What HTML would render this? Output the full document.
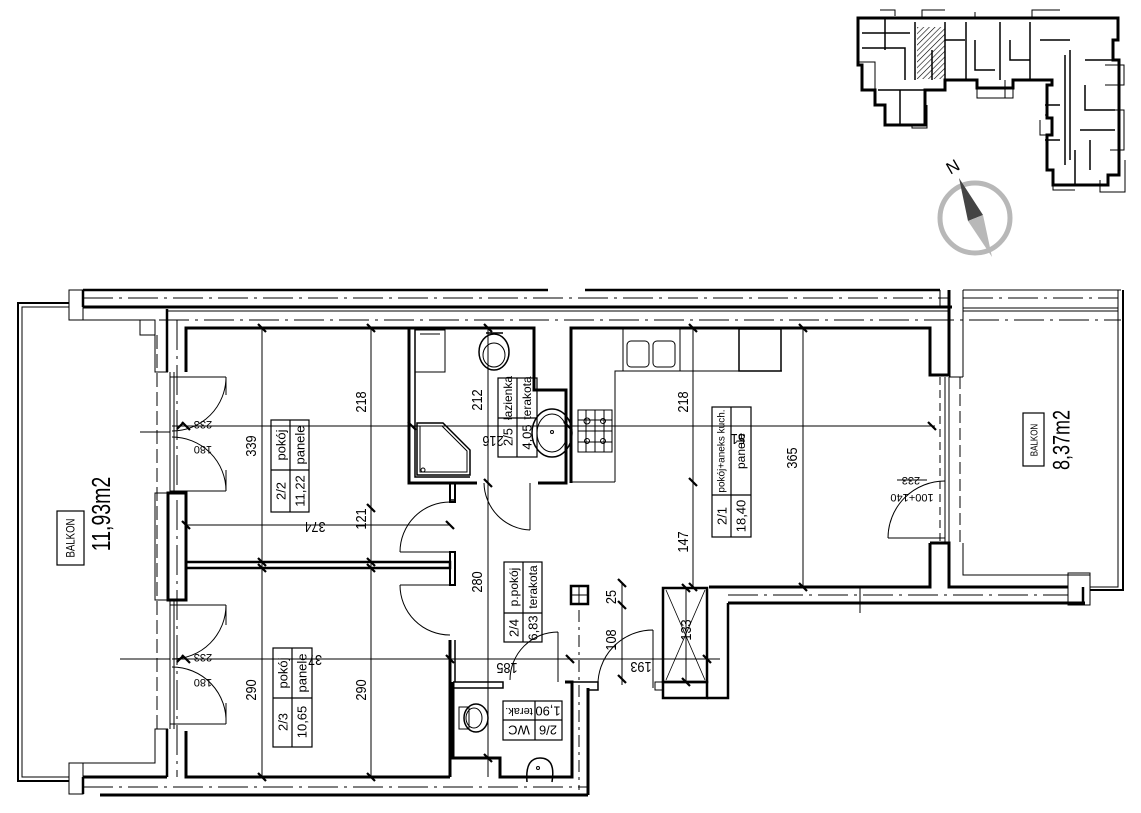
<!DOCTYPE html>
<html><head><meta charset="utf-8"><style>
html,body{margin:0;padding:0;background:#fff}
svg{display:block}
text{font-family:"Liberation Sans",sans-serif;fill:#000}
</style></head><body>
<svg width="1141" height="813" viewBox="0 0 1141 813" xmlns="http://www.w3.org/2000/svg">
<defs>
<pattern id="h" width="4" height="4" patternUnits="userSpaceOnUse" patternTransform="rotate(45)"><line x1="0" y1="0" x2="0" y2="4" stroke="#000" stroke-width="1.2"/></pattern>
</defs>
<g fill="none" stroke="#000">
<!-- TOP WALL -->
<line x1="83" y1="290" x2="548" y2="290" stroke-width="2.5"/>
<line x1="585" y1="290" x2="940" y2="290" stroke-width="2.5"/>
<line x1="83" y1="298" x2="950" y2="298" stroke-width="1" stroke-dasharray="30,6,3,6"/>
<line x1="83" y1="307" x2="952" y2="307" stroke-width="3"/>
<line x1="167" y1="311" x2="949" y2="311" stroke-width="1"/>
<line x1="69" y1="320" x2="1121" y2="320" stroke-width="1" stroke-dasharray="30,6,3,6"/>
<rect x="69" y="290" width="14" height="30" stroke-width="1"/>
<line x1="83" y1="290" x2="83" y2="307" stroke-width="2.5"/>
<!-- left balcony -->
<path d="M69 303 H18 V781 H69" stroke-width="2"/>
<path d="M69 307 H22 V777 H69" stroke-width="1"/>
<path d="M69 320 H155 V372 H168" stroke-width="1"/>
<rect x="140" y="320" width="15" height="15" stroke-width="1"/>
<path d="M69 763 H155 V729 H168" stroke-width="1"/>
<rect x="69" y="763" width="14" height="31" stroke-width="1"/>
<line x1="157" y1="335" x2="157" y2="729" stroke-width="1" stroke-dasharray="14,5"/>
<!-- left wall -->
<line x1="167" y1="309" x2="167" y2="372" stroke-width="2.5"/>
<path d="M186 372 V328 H409" stroke-width="3"/>
<line x1="177" y1="320" x2="177" y2="777" stroke-width="1" stroke-dasharray="30,6,3,6"/>
<line x1="170" y1="372" x2="170" y2="493" stroke-width="1"/>
<line x1="174" y1="372" x2="174" y2="493" stroke-width="1"/>
<rect x="168" y="493" width="18" height="107" stroke-width="3"/>
<rect x="155" y="493" width="13" height="107" stroke-width="1"/>
<line x1="170" y1="600" x2="170" y2="729" stroke-width="1"/>
<line x1="174" y1="600" x2="174" y2="729" stroke-width="1"/>
<path d="M167 729 V777" stroke-width="2.5"/>
<path d="M186 731 V777 H450" stroke-width="3"/>
<line x1="83" y1="777" x2="167" y2="777" stroke-width="3"/>
<line x1="83" y1="787" x2="588" y2="787" stroke-width="1" stroke-dasharray="30,6,3,6"/>
<line x1="100" y1="795" x2="588" y2="795" stroke-width="3"/>
<line x1="83" y1="777" x2="83" y2="794" stroke-width="2.5"/>
<!-- balcony doors left -->
<path d="M170 377 H226 M226 377 A54 54 0 0 1 172 431" stroke-width="1"/>
<path d="M170 491 H226 M226 491 A54 54 0 0 0 172 437" stroke-width="1"/>
<path d="M170 605 H226 M226 605 A54 54 0 0 1 172 659" stroke-width="1"/>
<path d="M170 724 H226 M226 724 A54 54 0 0 0 172 667" stroke-width="1"/>
<line x1="226" y1="377" x2="226" y2="395" stroke-width="1"/>
<line x1="226" y1="470" x2="226" y2="491" stroke-width="1"/>
<line x1="226" y1="605" x2="226" y2="625" stroke-width="1"/>
<line x1="226" y1="703" x2="226" y2="724" stroke-width="1"/>
<!-- partition between rooms -->
<rect x="186" y="562" width="264" height="6" stroke-width="2.5"/>
<!-- bathroom -->
<path d="M409 328 V483 H477" stroke-width="3"/>
<path d="M415 328 V477 H470" stroke-width="1.5"/>
<path d="M450 483 V500 H455 V487" stroke-width="1.5"/>
<path d="M409 328 H534 V390 H566 V483 H538" stroke-width="3"/>
<rect x="415" y="330" width="30" height="42" stroke-width="1"/>
<line x1="420" y1="334" x2="440" y2="334" stroke-width="1"/>
<path d="M417 423 H443 L470 450 V475 H417 Z" stroke-width="1.5"/>
<path d="M420 426 H442 L467 451 V472 H420 Z" stroke-width="1"/>
<circle cx="423" cy="470" r="2" stroke-width="1"/>
<ellipse cx="494" cy="352" rx="15" ry="18" stroke-width="1.5"/>
<ellipse cx="494" cy="355" rx="11" ry="12" stroke-width="1"/>
<line x1="486" y1="333" x2="503" y2="333" stroke-width="1.5"/>
<ellipse cx="552" cy="433" rx="20" ry="24" stroke-width="1.5"/>
<ellipse cx="552" cy="433" rx="15" ry="19" stroke-width="1"/>
<circle cx="552" cy="432" r="1.5" stroke-width="1"/>
<!-- bath door -->
<path d="M530 483 V530 M530 530 A48 48 0 0 1 484 483" stroke-width="1"/>
<!-- hall left wall with doors -->
<rect x="450" y="483" width="5" height="19" stroke-width="2"/>
<path d="M400 552 H450 M400 552 A50 50 0 0 1 450 502" stroke-width="1"/>
<rect x="450" y="552" width="5" height="33" stroke-width="2"/>
<path d="M400 585 H450 M400 585 A50 50 0 0 0 450 635" stroke-width="1"/>
<path d="M450 640 V777" stroke-width="3"/>
<line x1="455" y1="640" x2="455" y2="682" stroke-width="1.5"/>
<!-- kitchen -->
<path d="M571 483 V328 H930 V375 H949 V290" stroke-width="3"/>
<line x1="940" y1="290" x2="940" y2="307" stroke-width="1"/>
<line x1="963" y1="290" x2="963" y2="377" stroke-width="1"/>
<line x1="949" y1="377" x2="963" y2="377" stroke-width="1"/>
<line x1="945" y1="377" x2="945" y2="543" stroke-width="1"/>
<line x1="949" y1="377" x2="949" y2="543" stroke-width="1"/>
<line x1="940" y1="377" x2="940" y2="543" stroke-width="1" stroke-dasharray="8,5"/>
<line x1="960" y1="377" x2="960" y2="543" stroke-width="1" stroke-dasharray="12,5"/>
<path d="M945 540 A57 57 0 0 0 888 483" stroke-width="0" />
<path d="M888 538 H945 M888 538 A57 57 0 0 1 945 481" stroke-width="1"/>
<path d="M930 543 H949 V587 H1068" stroke-width="3"/>
<path d="M930 543 V587 H709" stroke-width="3"/>
<path d="M963 543 V575 H1090" stroke-width="1"/>
<line x1="728" y1="603" x2="1085" y2="603" stroke-width="3"/>
<line x1="728" y1="595" x2="1068" y2="595" stroke-width="1" stroke-dasharray="30,6,3,6"/>
<line x1="860" y1="587" x2="860" y2="613" stroke-width="1"/>
<!-- kitchen fittings -->
<rect x="623" y="329" width="57" height="42" stroke-width="1"/>
<rect x="627" y="341" width="22" height="26" rx="4" stroke-width="1"/>
<rect x="653" y="341" width="22" height="26" rx="4" stroke-width="1"/>
<path d="M615 482 V371 H782" stroke-width="1"/>
<line x1="571" y1="482" x2="615" y2="482" stroke-width="1"/>
<rect x="739" y="329" width="42" height="42" stroke-width="1.5"/>
<rect x="578" y="410" width="34" height="42" stroke-width="1"/>
<path d="M578 431 H612 M595 410 V452 M586 410 V452 M604 410 V452 M578 420 H612 M578 442 H612" stroke-width="1"/>
<circle cx="587" cy="421" r="3" stroke-width="1"/><circle cx="603" cy="421" r="2.5" stroke-width="1"/>
<circle cx="587" cy="441" r="2.5" stroke-width="1"/><circle cx="603" cy="441" r="2.5" stroke-width="1"/>
<!-- right balcony -->
<line x1="963" y1="290" x2="1121" y2="290" stroke-width="1"/>
<line x1="963" y1="298" x2="1118" y2="298" stroke-width="1" stroke-dasharray="30,6,3,6"/>
<line x1="963" y1="308" x2="1118" y2="308" stroke-width="1"/>
<line x1="963" y1="311" x2="1118" y2="311" stroke-width="1"/>
<path d="M1118 290 V587 H1090" stroke-width="1"/>
<path d="M1123 290 V590 H1090" stroke-width="2"/>
<rect x="1068" y="573" width="22" height="32" stroke-width="1"/>
<line x1="1083" y1="587" x2="1083" y2="605" stroke-width="2.5"/>
<!-- shaft and vent -->
<rect x="663" y="588" width="44" height="94" stroke-width="2.5"/>
<path d="M666 590 L705 680 M705 590 L666 680" stroke-width="0.8"/>
<rect x="663" y="682" width="44" height="16" stroke-width="2.5"/>
<path d="M707 698 H728 V603" stroke-width="2.5"/>
<rect x="571" y="586" width="17" height="18" stroke-width="2.5"/>
<line x1="579" y1="586" x2="579" y2="604" stroke-width="1"/><line x1="571" y1="595" x2="588" y2="595" stroke-width="1"/>
<line x1="579" y1="610" x2="579" y2="790" stroke-width="1" stroke-dasharray="12,5,3,5"/>
<!-- WC -->
<path d="M453 682 H503 V688 H453" stroke-width="1.5"/>
<path d="M453 682 V758 H500 V777 H572 V682 H565" stroke-width="3"/>
<path d="M588 688 V795" stroke-width="3"/>
<path d="M572 682 H598 V690 H588" stroke-width="1.5"/>
<path d="M558 632 V682 M558 632 A48 48 0 0 0 510 680" stroke-width="1"/>
<path d="M653 630 V688 M653 630 A55 55 0 0 0 598 688" stroke-width="1"/>
<rect x="655" y="682" width="8" height="8" stroke-width="1"/>
<ellipse cx="476" cy="718" rx="12" ry="14" stroke-width="1.5"/>
<ellipse cx="474" cy="718" rx="8" ry="10" stroke-width="1"/>
<rect x="459" y="707" width="10" height="22" stroke-width="1"/>
<path d="M527 782 Q525 758 540 758 Q556 758 552 782" stroke-width="1.5"/>
<circle cx="538" cy="768" r="1.5" stroke-width="1"/>
<!-- DIMENSIONS -->
<g stroke-width="1">
<line x1="172" y1="426" x2="935" y2="426"/>
<line x1="140" y1="432" x2="170" y2="432"/>
<line x1="186" y1="525" x2="450" y2="525"/>
<line x1="172" y1="659" x2="720" y2="659"/>
<line x1="120" y1="659" x2="170" y2="659"/>
<line x1="262" y1="328" x2="262" y2="777"/>
<line x1="371" y1="328" x2="371" y2="777"/>
<line x1="488" y1="328" x2="488" y2="777"/>
<line x1="693" y1="328" x2="693" y2="587"/>
<line x1="803" y1="328" x2="803" y2="587"/>
<line x1="622" y1="583" x2="622" y2="685"/>
<line x1="686" y1="588" x2="686" y2="682"/>
<line x1="897" y1="480" x2="927" y2="480"/>
</g>
<g stroke-width="2.2">
<path d="M258 324 l8 8 M258 773 l8 8 M367 324 l8 8 M367 504 l8 8 M367 558 l8 8 M367 564 l8 8 M367 773 l8 8 M258 558 l8 8 M258 564 l8 8"/>
<path d="M484 324 l8 8 M484 479 l8 8 M484 754 l8 8 M689 324 l8 8 M689 478 l8 8 M689 583 l8 8 M799 324 l8 8 M799 583 l8 8"/>
<path d="M182 422 l8 8 M408 422 l8 8 M564 422 l8 8 M928 422 l8 8 M182 521 l8 8 M446 521 l8 8"/>
<path d="M182 655 l8 8 M446 655 l8 8 M566 655 l8 8 M703 655 l8 8 M618 579 l8 8 M618 601 l8 8 M618 675 l8 8 M682 584 l8 8 M682 678 l8 8"/>
<path d="M177 429 l6 -6 M177 662 l6 -6"/>
</g>
</g>
<!-- dimension texts -->
<g font-size="15" text-anchor="middle">
<text transform="translate(256,446) rotate(-90) scale(0.85,1)">339</text>
<text transform="translate(256,690) rotate(-90) scale(0.85,1)">290</text>
<text transform="translate(366,402) rotate(-90) scale(0.85,1)">218</text>
<text transform="translate(366,519) rotate(-90) scale(0.85,1)">121</text>
<text transform="translate(366,690) rotate(-90) scale(0.85,1)">290</text>
<text transform="translate(482,400) rotate(-90) scale(0.85,1)">212</text>
<text transform="translate(482,582) rotate(-90) scale(0.85,1)">280</text>
<text transform="translate(688,402) rotate(-90) scale(0.85,1)">218</text>
<text transform="translate(688,542) rotate(-90) scale(0.85,1)">147</text>
<text transform="translate(797,458) rotate(-90) scale(0.85,1)">365</text>
<text transform="translate(616,597) rotate(-90) scale(0.85,1)">25</text>
<text transform="translate(616,640) rotate(-90) scale(0.85,1)">108</text>
<text transform="translate(691,630) rotate(-90) scale(0.85,1)">133</text>
<text transform="translate(315,522) rotate(180) scale(0.85,1)">374</text>
<text transform="translate(315,655) rotate(180) scale(0.85,1)">37</text>
<text transform="translate(507,663) rotate(180) scale(0.85,1)">185</text>
<text transform="translate(641,662) rotate(180) scale(0.85,1)">193</text>
<text transform="translate(493,436) rotate(180) scale(0.85,1)">216</text>
<text transform="translate(738,434) rotate(180) scale(0.85,1)">51</text>
</g>
<g font-size="11" text-anchor="middle">
<text transform="translate(203,421) rotate(180)">233</text>
<text transform="translate(203,446) rotate(180)">180</text>
<text transform="translate(203,654) rotate(180)">233</text>
<text transform="translate(203,679) rotate(180)">180</text>
<text transform="translate(911,477) rotate(180)">233</text>
<text transform="translate(912,494) rotate(180)">100+140</text>
</g>
<!-- room labels -->
<g fill="none" stroke="#000" stroke-width="1.2">
<rect x="271" y="420" width="38" height="92"/><line x1="290" y1="420" x2="290" y2="512"/><line x1="271" y1="470" x2="309" y2="470"/>
<rect x="273" y="648" width="39" height="99"/><line x1="292" y1="648" x2="292" y2="747"/><line x1="273" y1="698" x2="312" y2="698"/>
<rect x="498" y="378" width="39" height="79"/><line x1="517" y1="378" x2="517" y2="457"/><line x1="498" y1="418" x2="537" y2="418"/>
<rect x="504" y="562" width="38" height="80"/><line x1="523" y1="562" x2="523" y2="642"/><line x1="504" y1="613" x2="542" y2="613"/>
<rect x="503" y="701" width="59" height="39"/><line x1="535" y1="701" x2="535" y2="740"/><line x1="503" y1="720" x2="562" y2="720"/>
<rect x="712" y="407" width="39" height="130"/><line x1="731" y1="407" x2="731" y2="537"/><line x1="712" y1="495" x2="751" y2="495"/>
<rect x="57" y="511" width="27" height="54"/>
<rect x="1023" y="413" width="21" height="53"/>
</g>
<g font-size="13" text-anchor="middle" dominant-baseline="central">
<text transform="translate(281,445) rotate(-90)">pokój</text>
<text transform="translate(300,445) rotate(-90)">panele</text>
<text transform="translate(281,491) rotate(-90)">2/2</text>
<text transform="translate(300,491) rotate(-90)">11,22</text>
<text transform="translate(283,673) rotate(-90)">pokój</text>
<text transform="translate(302,673) rotate(-90)">panele</text>
<text transform="translate(283,722) rotate(-90)">2/3</text>
<text transform="translate(302,722) rotate(-90)">10,65</text>
<text transform="translate(508,398) rotate(-90)" font-size="12">łazienka</text>
<text transform="translate(527,398) rotate(-90)" font-size="12">terakota</text>
<text transform="translate(508,437) rotate(-90)">2/5</text>
<text transform="translate(527,437) rotate(-90)">4,05</text>
<text transform="translate(514,587) rotate(-90)" font-size="12">p.pokój</text>
<text transform="translate(533,587) rotate(-90)" font-size="12">terakota</text>
<text transform="translate(514,628) rotate(-90)">2/4</text>
<text transform="translate(533,628) rotate(-90)">6,83</text>
<text transform="translate(519,711) rotate(180)" font-size="11">terak.</text>
<text transform="translate(548,711) rotate(180)">1,90</text>
<text transform="translate(519,730) rotate(180)">WC</text>
<text transform="translate(548,730) rotate(180)">2/6</text>
<text transform="translate(722,451) rotate(-90)" font-size="10">pokój+aneks kuch.</text>
<text transform="translate(741,451) rotate(-90)" font-size="12">panele</text>
<text transform="translate(722,516) rotate(-90)">2/1</text>
<text transform="translate(741,516) rotate(-90)">18,40</text>
<text transform="translate(71,538) rotate(-90) scale(0.8,1)" font-size="12">BALKON</text>
<text transform="translate(101,514) rotate(-90) scale(0.75,1)" font-size="26">11,93m2</text>
<text transform="translate(1034,440) rotate(-90) scale(0.8,1)" font-size="10">BALKON</text>
<text transform="translate(1062,440) rotate(-90) scale(0.75,1)" font-size="24">8,37m2</text>
</g>
<!-- KEY PLAN -->
<g fill="none" stroke="#000">
<rect x="917" y="27" width="28" height="52" fill="url(#h)" stroke="none"/>
<path d="M858 18 H1118 V40 H1113 V60 H1119 V175 H1108 V185 H1053 V170 H1047 V135 H1052 V118 H1047 V85 H1052 V80 H1013 V88 H977 V80 H945 V90 H925 V125 H885 V105 H875 V90 H862 V65 H858 Z" stroke-width="3"/>
<path d="M862 33 H910 M885 18 V50 M862 48 H905 V80 M915 22 V80 M945 22 V80 M932 50 V80 M945 40 H965 M966 22 V80 M975 40 V70 H995 M1000 22 V80 M1030 22 V80 M1010 40 V60 H1030 M1040 40 H1070 M1065 55 V165 M1070 50 V160 M1085 60 H1115 M1085 85 V110 H1115 M1080 130 H1115 M1060 105 H1045 M1060 140 H1045 M1075 150 V185 M1090 140 V170" stroke-width="1.5"/>
<path d="M878 90 H925 M900 90 V125" stroke-width="1.5"/>
<path d="M858 62 H875 V90 M1105 65 H1124 V85 H1105 M1110 110 H1124 V150 H1110 M1045 115 H1047 M1040 120 V135 H1047 M1053 175 V190 H1075 M1100 180 V192 H1125 V160 M912 125 V128 H927 V105 M922 18 V10 H945 M1032 18 V10 H1060 M975 18 V12 M895 16 V10 H880" stroke-width="1"/>
<path d="M977 88 V98 H1013 V88 M1005 80 V98" stroke-width="1"/>
</g>
<!-- compass -->
<circle cx="975" cy="218" r="35" fill="none" stroke="#b8b8b8" stroke-width="5"/>
<polygon points="959,178 983,215 968,221" fill="#444"/>
<polygon points="983,215 968,221 992,257" fill="#b8b8b8"/>
<text transform="translate(953,167) rotate(-30)" font-size="17" text-anchor="middle" dominant-baseline="central" fill="#333">N</text>
</svg>
</body></html>
